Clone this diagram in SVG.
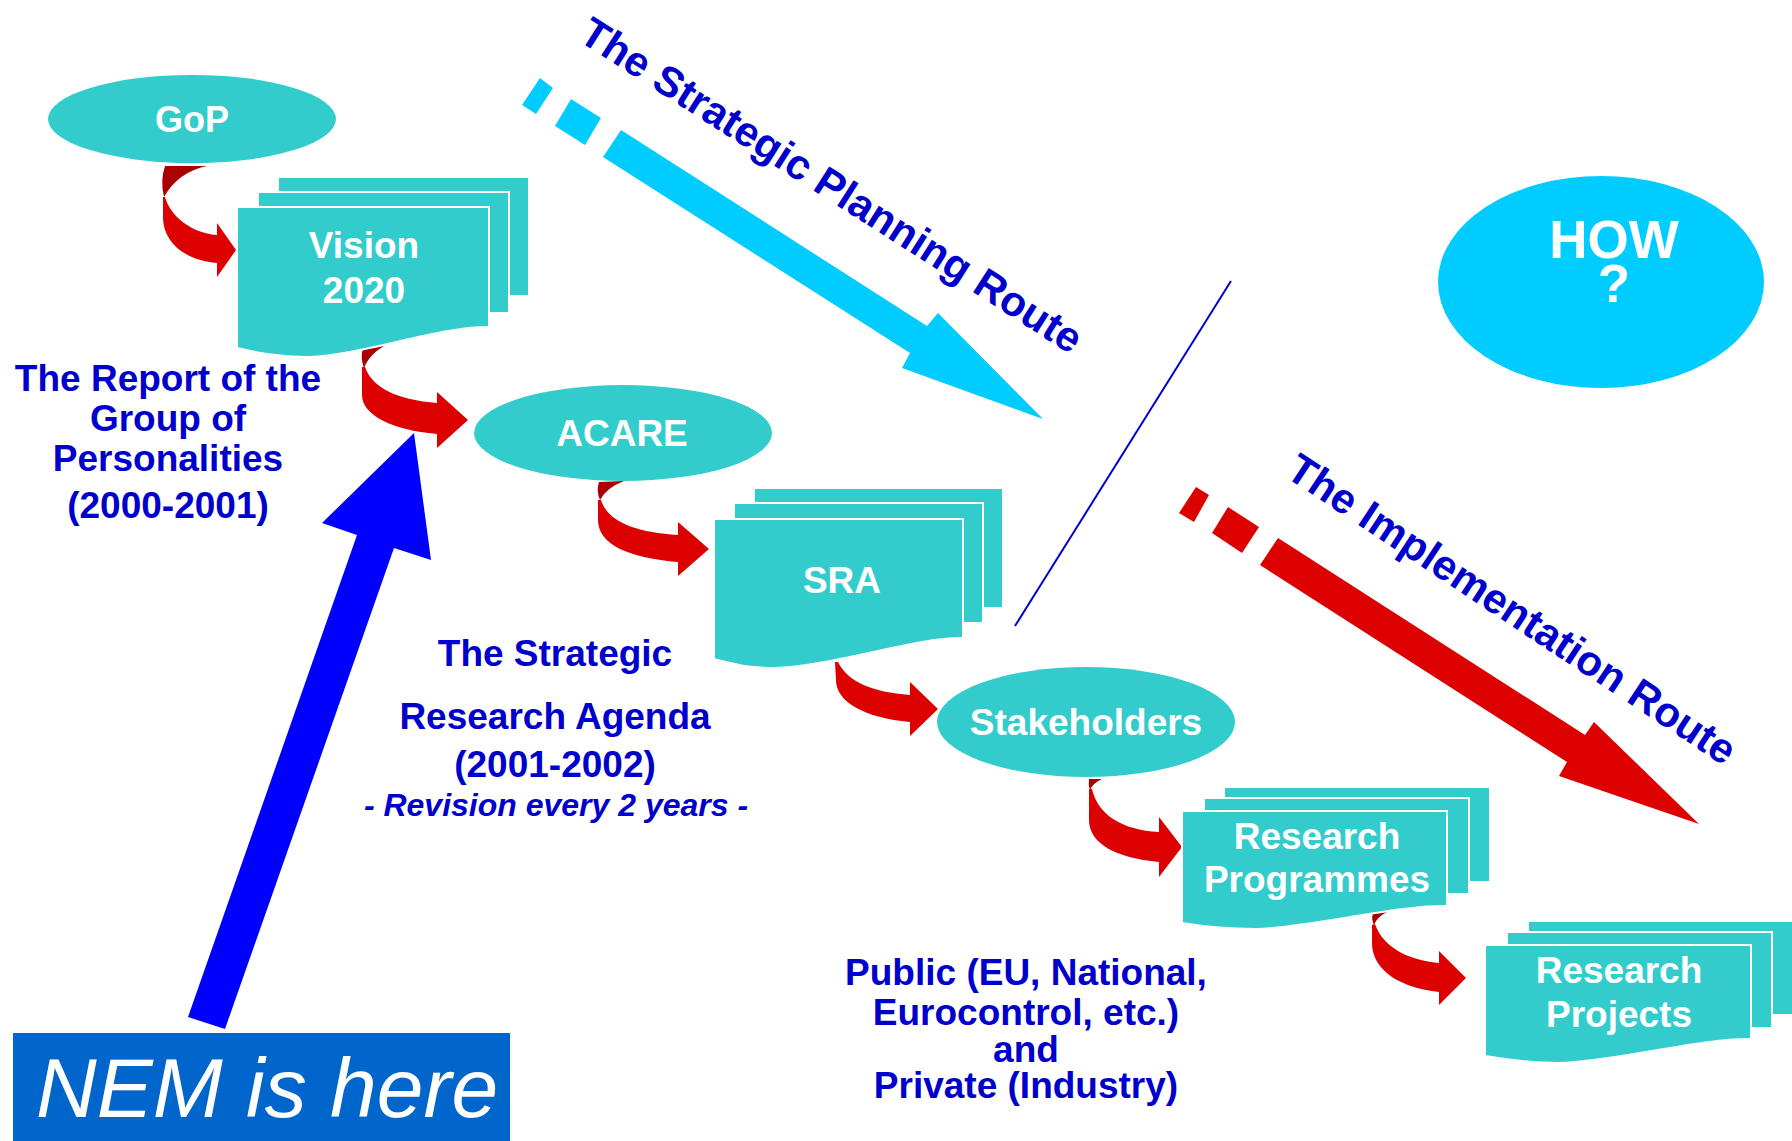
<svg xmlns="http://www.w3.org/2000/svg" width="1792" height="1141" viewBox="0 0 1792 1141">
<style>
.ell{fill:#33CCCC}
.doc{fill:#33CCCC;stroke:#fff;stroke-width:2}
.nt{font-family:"Liberation Sans",Arial,sans-serif;font-weight:bold;fill:#fff;font-size:37px;text-anchor:middle}
.lbl{font-family:"Liberation Sans",Arial,sans-serif;font-weight:bold;fill:#0000CC;font-size:37px;text-anchor:middle}
.route{font-family:"Liberation Sans",Arial,sans-serif;font-weight:bold;fill:#0000CC;font-size:42px}
.red{fill:#DD0000}
.dark{fill:#AA0000}
</style>
<rect width="1792" height="1141" fill="#fff"/>

<g id="routes">
  <g id="strategic-route">
    <polygon fill="#00CCFF" points="540,78 553,88 536,114 522,105"/>
    <polygon fill="#00CCFF" points="571,99 601,118 585,145 555,126"/>
    <polygon fill="#00CCFF" points="621,130 927,326 938,313 1043,419 902,368 910,353 603,157"/>
    <text class="route" transform="translate(577,40) rotate(32.5)">The Strategic Planning Route</text>
  </g>
  <g id="implementation-route">
    <polygon fill="#DD0000" points="1196,487 1209,495 1194,522 1179,513"/>
    <polygon fill="#DD0000" points="1228,507 1259,527 1242,553 1212,533"/>
    <polygon fill="#DD0000" points="1278,538 1585,735 1594,722 1699,824 1559,776 1567,762 1260,565"/>
    <text class="route" transform="translate(1284,476) rotate(33.4)">The Implementation Route</text>
  </g>
  <line x1="1015" y1="626" x2="1231" y2="281" stroke="#0000CC" stroke-width="2"/>
</g>

<g id="connectors">
  <g id="c-gop-vision">
    <path class="dark" d="M165,166 L207,166 Q178,172 164,197 Q160,181 165,166 Z"/>
    <path class="red" d="M163,197 L165,197 C170,215 190,233 217,235 L217,223 L236,250 L217,277 L217,263 C182,260 163,240 163,217 Z"/>
  </g>
  <g id="c-vision-acare">
    <path class="dark" d="M363,348 L400,339 Q372,348 364,368 Q360,358 363,348 Z"/>
    <path class="red" d="M362,367 L365,367 C372,388 398,400 437,403 L437,392 L468,420 L437,448 L437,434 C392,430 362,415 362,395 Z"/>
  </g>
  <g id="c-acare-sra">
    <path class="dark" d="M599,482 L624,481 Q606,488 600,500 Q596,491 599,482 Z"/>
    <path class="red" d="M598,500 L601,500 C608,522 635,532 678,535 L678,522 L709,549 L678,576 L678,562 C630,558 598,545 598,520 Z"/>
  </g>
  <g id="c-sra-stakeholders">
    <path class="red" d="M835,662 L838,662 C848,682 872,692 910,695 L910,682 L938,709 L910,736 L910,722 C865,718 836,702 836,680 Z"/>
  </g>
  <g id="c-stakeholders-programmes">
    <path class="dark" d="M1089,779 L1102,779 Q1093,783 1090,790 Q1088,785 1089,779 Z"/>
    <path class="red" d="M1089,789 L1092,789 C1098,815 1122,830 1159,832 L1159,817 L1182,847 L1159,877 L1159,862 C1115,858 1089,843 1089,820 Z"/>
  </g>
  <g id="c-programmes-projects">
    <path class="dark" d="M1373,913 L1387,912 Q1377,917 1374,925 Q1371,919 1373,913 Z"/>
    <path class="red" d="M1372,925 L1375,924 C1382,945 1405,960 1439,963 L1439,951 L1466,978 L1439,1005 L1439,992 C1400,988 1372,970 1372,943 Z"/>
  </g>
  <polygon id="c-nem" fill="#0000FF" points="414,433 431,560 394,548 225,1029 188,1017 357,535 322,523"/>
</g>

<g id="gop">
  <ellipse class="ell" cx="192" cy="119" rx="144" ry="44"/>
  <text class="nt" x="192" y="132" style="font-size:36px">GoP</text>
</g>

<g id="vision2020">
  <rect class="doc" x="278" y="177" width="251" height="119"/>
  <rect class="doc" x="258" y="192" width="251" height="121"/>
  <path class="doc" d="M237,207 H489 V327 C440,326 360,356 306,357 C275,357 255,352 237,348 Z"/>
  <text class="nt" x="364" y="258">Vision</text>
  <text class="nt" x="364" y="303">2020</text>
</g>

<g id="acare">
  <ellipse class="ell" cx="623" cy="433" rx="149" ry="48"/>
  <text class="nt" x="622" y="446">ACARE</text>
</g>

<g id="sra">
  <rect class="doc" x="754" y="488" width="249" height="120"/>
  <rect class="doc" x="734" y="503" width="249" height="120"/>
  <path class="doc" d="M714,519 H963 V638 C915,637 830,667 774,668 C745,668 730,663 714,659 Z"/>
  <text class="nt" x="842" y="593">SRA</text>
</g>

<g id="stakeholders">
  <ellipse class="ell" cx="1086" cy="722" rx="149" ry="55"/>
  <text class="nt" x="1086" y="735">Stakeholders</text>
</g>

<g id="research-programmes">
  <rect class="doc" x="1224" y="787" width="266" height="95"/>
  <rect class="doc" x="1204" y="798" width="265" height="96"/>
  <path class="doc" d="M1182,811 H1447 V906 C1395,905 1310,928 1256,929 C1225,929 1200,926 1182,923 Z"/>
  <text class="nt" x="1317" y="849">Research</text>
  <text class="nt" x="1317" y="892">Programmes</text>
</g>

<g id="research-projects">
  <rect class="doc" x="1528" y="921" width="270" height="94"/>
  <rect class="doc" x="1507" y="932" width="265" height="96"/>
  <path class="doc" d="M1485,945 H1751 V1039 C1700,1038 1613,1062 1559,1063 C1528,1063 1503,1059 1485,1056 Z"/>
  <text class="nt" x="1619" y="983">Research</text>
  <text class="nt" x="1619" y="1027">Projects</text>
</g>

<g id="how">
  <ellipse cx="1601" cy="282" rx="163" ry="106" fill="#00CCFF"/>
  <text class="nt" x="1614" y="258" style="font-size:53px">HOW</text>
  <text class="nt" x="1614" y="302" style="font-size:53px">?</text>
</g>

<g id="nem">
  <rect x="13" y="1033" width="497" height="108" fill="#0066CC"/>
  <text x="36" y="1117" style="font-family:'Comic Sans MS','Liberation Sans',sans-serif;font-style:italic;font-size:84px;fill:#fff">NEM is here</text>
</g>

<g id="label-gop" class="lbl">
  <text x="168" y="391">The Report of the</text>
  <text x="168" y="431">Group of</text>
  <text x="168" y="471">Personalities</text>
  <text x="168" y="518">(2000-2001)</text>
</g>

<g id="label-sra" class="lbl">
  <text x="555" y="666">The Strategic</text>
  <text x="555" y="729">Research Agenda</text>
  <text x="555" y="777">(2001-2002)</text>
  <text x="556" y="816" style="font-style:italic;font-size:32px">- Revision every 2 years -</text>
</g>

<g id="label-stakeholders" class="lbl">
  <text x="1026" y="985">Public (EU, National,</text>
  <text x="1026" y="1025">Eurocontrol, etc.)</text>
  <text x="1026" y="1062">and</text>
  <text x="1026" y="1098">Private (Industry)</text>
</g>
</svg>
